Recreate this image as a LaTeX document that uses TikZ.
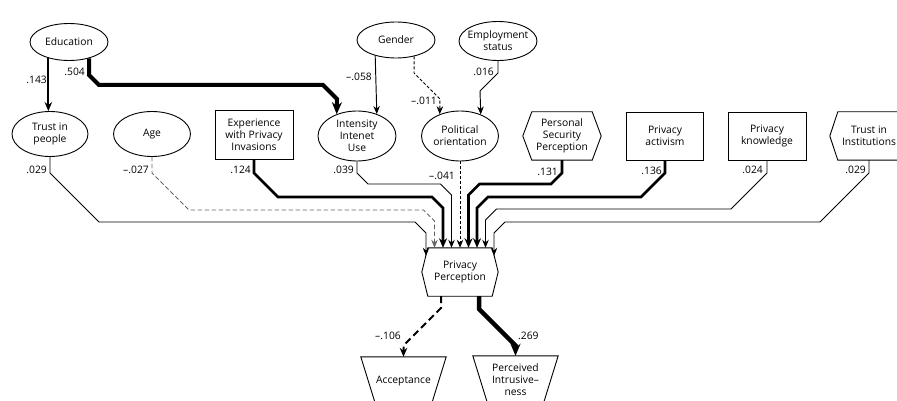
\documentclass[tikz,border=0pt]{standalone}
\usepackage{fontspec}
\setmainfont{Open Sans}
\usetikzlibrary{arrows.meta,shapes.geometric}
\newcommand{\hexo}[2]{\draw[outl] (#1.north west) -- (#1.north east) -- ([xshift=#2pt]#1.east) -- (#1.south east) -- (#1.south west) -- ([xshift=-#2pt]#1.west) -- cycle;}
\newcommand{\trapo}[2]{\draw[outl] (#1.north west) -- (#1.north east) -- ([xshift=-#2pt]#1.south east) -- ([xshift=#2pt]#1.south west) -- cycle;}
\begin{document}
\begin{tikzpicture}[x=1pt,y=-1pt,
  every node/.style={font=\fontsize{10.3}{12}\selectfont, align=center, inner sep=0pt},
  outl/.style={line width=0.9pt},
  ell/.style={draw, ellipse, line width=0.9pt},
  box/.style={draw, rectangle, line width=0.9pt},
  body/.style={rectangle},
  lbl/.style={anchor=east},
  con/.style={line width=0.95pt, -{Stealth[length=8pt,width=6.5pt]}},
  cA/.style={line width=2pt, -{Stealth[length=9pt,width=7.5pt]}},
  cB/.style={line width=2.6pt, -{Stealth[length=9.5pt,width=8pt]}},
  cC/.style={line width=4pt, -{Stealth[length=12pt,width=10pt]}},
  dsh/.style={dash pattern=on 3pt off 2pt},
  gdsh/.style={draw=black!60, dash pattern=on 4.5pt off 2.5pt},
]
\useasboundingbox (0,0) rectangle (897,401);
\clip (0,0) rectangle (897,401);

% top row
\node[ell, minimum width=78pt, minimum height=37pt, label={center:Education}] (edu) at (69,42) {};
\node[ell, minimum width=78pt, minimum height=36pt, label={center:Gender}] (gen) at (396,40) {};
\node[ell, minimum width=78pt, minimum height=39pt, label={center:Employment\\status}] (emp) at (498,41) {};

% middle row
\node[ell, minimum width=76pt, minimum height=45pt, label={center:Trust in\\people}] (tp) at (50,134) {};
\node[ell, minimum width=77pt, minimum height=45pt, label={center:Age}] (age) at (152,134) {};
\node[box, minimum width=78pt, minimum height=49pt] (exp) at (254,135) {Experience\\with Privacy\\Invasions};
\node[ell, minimum width=78pt, minimum height=50pt, label={center:Intensity\\Intenet\\Use}] (ii) at (357,136) {};
\node[ell, minimum width=77pt, minimum height=50pt, label={center:Political\\orientation}] (pol) at (460,136) {};
\node[body, minimum width=60pt, minimum height=48pt] (psp) at (562,136) {Personal\\Security\\Perception};
\hexo{psp}{9}
\node[box, minimum width=77pt, minimum height=48pt] (act) at (665,136) {Privacy\\activism};
\node[box, minimum width=78pt, minimum height=48pt] (kno) at (767,136) {Privacy\\knowledge};
\node[body, minimum width=62pt, minimum height=48pt] (tin) at (869,136) {Trust in\\Institutions};
\hexo{tin}{8}

% central and outcomes
\node[body, minimum width=64pt, minimum height=48pt] (pp) at (460,272) {Privacy\\Perception};
\hexo{pp}{6}
\node[body, minimum width=85pt, minimum height=48pt] (acc) at (403.5,381) {Acceptance};
\trapo{acc}{15}
\node[body, minimum width=85pt, minimum height=48pt] (pi) at (515.5,380) {Perceived\\Intrusive–\\ness};
\trapo{pi}{15}

% top connectors
\draw[cA] (edu.218.5) -- (tp.north -| edu.218.5);
\draw[cC] (edu.321.5) -- (89,75) -- (99,85) -- (323,85) -- (337,99) -- (ii.133);
\draw[con] (gen.217.7) -- (ii.48.9);
\draw[con,dsh] (gen.318.4) -- (414,73) -- (440,99) -- (pol.133.1);
\draw[con] (emp.south) -- (498,73) -- (480,91) -- (pol.46.9);

% converging connectors
\draw[con] (tp.south) -- (50,173) -- (99,222) -- (415,222) -- (426,233) -- ([xshift=-34pt,yshift=-8pt]pp.north);
\draw[con,gdsh] (age.south) -- (152,173) -- (189,210) -- (423.5,210) -- (434.5,221) -- ([xshift=-25.5pt]pp.north);
\draw[cB] (exp.south) -- (254,173) -- (278,197) -- (432,197) -- (443,208) -- ([xshift=-17pt]pp.north);
\draw[con] (ii.south) -- (357,173) -- (368,184) -- (440.5,184) -- (451.5,195) -- ([xshift=-8.5pt]pp.north);
\draw[con,dsh] (pol.south) -- (pp.north);
\draw[cB] (psp.south) -- (562,173) -- (551,184) -- (479.5,184) -- (468.5,195) -- ([xshift=8.5pt]pp.north);
\draw[cB] (act.south) -- (665,173) -- (641,197) -- (488,197) -- (477,208) -- ([xshift=17pt]pp.north);
\draw[con] (kno.south) -- (767,173) -- (731,209) -- (496.5,209) -- (485.5,220) -- ([xshift=25.5pt]pp.north);
\draw[con] (tin.south) -- (869,173) -- (820,222) -- (505,222) -- (494,233) -- ([xshift=34pt,yshift=-8pt]pp.north);

% outcome connectors
\draw[cA, dash pattern=on 7pt off 4pt] ([xshift=-19pt]pp.south) -- (441,308) -- (403.5,345.5) -- (acc.north);
\draw[cC, line width=4.5pt] ([xshift=19pt]pp.south) -- (479,309) -- (515.5,345.5) -- (pi.north);

% labels
\node[lbl] (l1) at (47,80) {.143};
\node[lbl] (l2) at (85,72) {.504};
\node[lbl] (l3) at (372,77) {–.058};
\node[lbl] (l4) at (437,101) {–.011};
\node[lbl] (l5) at (494,72) {.016};
\node[lbl] (l6) at (47,170) {.029};
\node[lbl] (l7) at (149,170) {–.027};
\node[lbl] (l8) at (251,170) {.124};
\node[lbl] (l9) at (354,170) {.039};
\node[lbl] (l10) at (455,176) {–.041};
\node[lbl] (l11) at (558,172) {.131};
\node[lbl] (l12) at (662,171) {.136};
\node[lbl] (l13) at (763,170) {.024};
\node[lbl] (l14) at (866,170) {.029};
\node[lbl] (l15) at (401,336) {–.106};
\node[anchor=west] (l16) at (518,336) {.269};
\end{tikzpicture}
\end{document}
